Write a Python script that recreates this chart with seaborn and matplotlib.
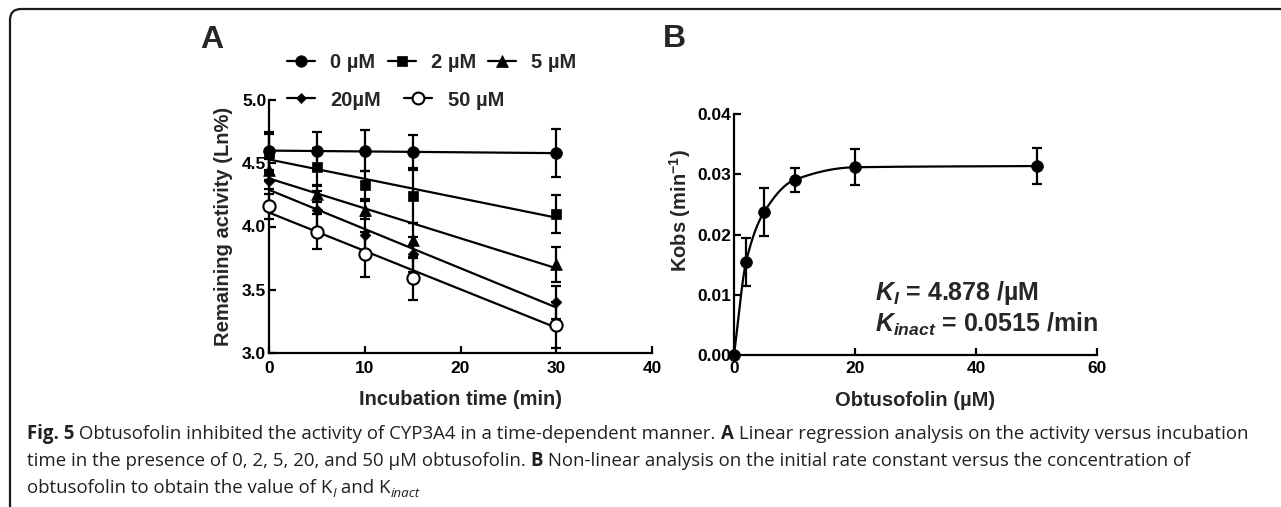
import numpy as np
import pandas as pd
import matplotlib
matplotlib.use("Agg")
import matplotlib.pyplot as plt
import seaborn as sns
from matplotlib.lines import Line2D
from matplotlib.path import Path
from matplotlib.patches import PathPatch

# ---------------- data ----------------
# Panel A: remaining activity (Ln%) vs incubation time
times = [0, 5, 10, 15, 30]
conc_labels = ["0 µM", "2 µM", "5 µM", "20µM", "50 µM"]
act_0 = [4.60, 4.60, 4.60, 4.59, 4.58]
err_0 = [0.15, 0.15, 0.16, 0.13, 0.19]
act_2 = [4.58, 4.47, 4.33, 4.24, 4.10]
err_2 = [0.15, 0.15, 0.11, 0.21, 0.15]
act_5 = [4.45, 4.26, 4.13, 3.89, 3.70]
err_5 = [0.08, 0.07, 0.07, 0.14, 0.14]
act_20 = [4.36, 4.13, 3.93, 3.78, 3.40]
err_20 = [0.06, 0.15, 0.15, 0.14, 0.13]
act_50 = [4.16, 3.96, 3.78, 3.59, 3.22]
err_50 = [0.10, 0.14, 0.18, 0.17, 0.18]
# linear-regression lines (value at t=0 and at t=30)
fit_times = [0, 30]
fit_start = [4.60, 4.53, 4.38, 4.29, 4.11]
fit_end = [4.58, 4.07, 3.67, 3.36, 3.20]

# Panel B: kobs vs obtusofolin concentration
conc_b = [0, 2, 5, 10, 20, 50]
kobs = [0.0, 0.0155, 0.0238, 0.0291, 0.0312, 0.0314]
kobs_err = [0.0, 0.0040, 0.0040, 0.0020, 0.0030, 0.0030]

xticks_a = [0, 10, 20, 30, 40]
yticks_a = [3.0, 3.5, 4.0, 4.5, 5.0]
ytick_labels_a = ["3.0", "3.5", "4.0", "4.5", "5.0"]
xticks_b = [0, 20, 40, 60]
yticks_b = [0.0, 0.01, 0.02, 0.03, 0.04]
ytick_labels_b = ["0.00", "0.01", "0.02", "0.03", "0.04"]

caption_lines = [
    [("Fig. 5", "bold", "normal", 0), (" Obtusofolin inhibited the activity of CYP3A4 in a time-dependent manner. ", "normal", "normal", 0),
     ("A", "bold", "normal", 0), (" Linear regression analysis on the activity versus incubation", "normal", "normal", 0)],
    [("time in the presence of 0, 2, 5, 20, and 50 µM obtusofolin. ", "normal", "normal", 0), ("B", "bold", "normal", 0),
     (" Non-linear analysis on the initial rate constant versus the concentration of", "normal", "normal", 0)],
    [("obtusofolin to obtain the value of K", "normal", "normal", 0), ("I", "normal", "italic", 1),
     (" and K", "normal", "normal", 0), ("inact", "normal", "italic", 1)],
]

# ---------------- style ----------------
sns.set_theme(style="ticks")
plt.rcParams["font.family"] = ["Liberation Sans", "DejaVu Sans"]
plt.rcParams["font.weight"] = "bold"
plt.rcParams["axes.labelweight"] = "bold"
plt.rcParams["mathtext.fontset"] = "custom"
plt.rcParams["mathtext.rm"] = "Liberation Sans:bold"
plt.rcParams["mathtext.it"] = "Liberation Sans:italic:bold"
plt.rcParams["mathtext.bf"] = "Liberation Sans:bold"

W, H = 1281, 507
fig = plt.figure(figsize=(W / 100, H / 100), dpi=100)
fig.patch.set_facecolor("white")

def px_axes(l, t, r, b):
    return fig.add_axes([l / W, (H - b) / H, (r - l) / W, (b - t) / H])

LW = 1.6

def style_axes(ax):
    sns.despine(ax=ax)
    for s in ("left", "bottom"):
        ax.spines[s].set_linewidth(LW)
        ax.spines[s].set_color("black")
    ax.tick_params(direction="in", length=5, width=LW, colors="black", labelsize=12.5)
    ax.tick_params(axis="y", pad=2)
    ax.tick_params(axis="x", pad=6)
    ax.set_facecolor("white")
    ax.grid(False)

# ---------------- panel A ----------------
axA = px_axes(269, 100, 652, 353)
style_axes(axA)
series = [act_0, act_2, act_5, act_20, act_50]
errors = [err_0, err_2, err_5, err_20, err_50]
markers = ["o", "s", "^", "D", "o"]
msizes = [72, 62, 72, 30, 78]
faces = ["black", "black", "black", "black", "white"]

for i in range(5):
    fit_df = pd.DataFrame({"t": fit_times, "v": [fit_start[i], fit_end[i]]})
    sns.lineplot(data=fit_df, x="t", y="v", ax=axA, color="black", lw=LW, zorder=2)
for i in range(5):
    axA.errorbar(times, series[i], yerr=errors[i], fmt="none", ecolor="black",
                 elinewidth=LW, capsize=3.4, capthick=LW, zorder=3, clip_on=False)
for i in range(5):
    df = pd.DataFrame({"t": times, "v": series[i]})
    sns.scatterplot(data=df, x="t", y="v", ax=axA, marker=markers[i], s=msizes[i],
                    color="black", facecolor=faces[i], edgecolor="black",
                    linewidth=1.5 if i == 4 else 0.5, zorder=4, clip_on=False)

axA.set_xlim(0, 40)
axA.set_ylim(3.0, 5.0)
axA.set_xticks(xticks_a)
axA.set_yticks(yticks_a)
axA.set_yticklabels(ytick_labels_a)
axA.set_xlabel("Incubation time (min)", fontsize=14.5, fontweight="bold")
axA.set_ylabel("Remaining activity (Ln%)", fontsize=14.5, fontweight="bold")
axA.xaxis.set_label_coords(0.5, -0.148)
axA.yaxis.set_label_coords(-0.094, 0.5)

handles = [Line2D([], [], color="black", lw=LW, marker=m, markersize=ms,
                  markerfacecolor=f, markeredgecolor="black", markeredgewidth=1.5 if f == "white" else 0.5)
           for m, ms, f in zip(markers, [8.3, 7.5, 8.3, 5.5, 8.5], faces)]
leg1 = axA.legend(handles[:3], conc_labels[:3], ncol=3, frameon=False,
                  loc="center left", bbox_to_anchor=(287 / W, (H - 63) / H),
                  bbox_transform=fig.transFigure, borderpad=0, borderaxespad=0,
                  handlelength=1.4, handletextpad=0.75, columnspacing=0.6,
                  prop={"size": 14.5, "weight": "bold"})
axA.add_artist(leg1)
axA.legend(handles[3:], conc_labels[3:], ncol=2, frameon=False,
           loc="center left", bbox_to_anchor=(287 / W, (H - 100) / H),
           bbox_transform=fig.transFigure, borderpad=0, borderaxespad=0,
           handlelength=1.4, handletextpad=0.75, columnspacing=1.15,
           prop={"size": 14.5, "weight": "bold"})

# ---------------- panel B ----------------
axB = px_axes(734, 114.3, 1097, 355)
style_axes(axB)

def pchip(x, y, xs):
    x = np.asarray(x, float); y = np.asarray(y, float)
    h = np.diff(x); d = np.diff(y) / h
    n = len(x); m = np.zeros(n)
    for k in range(1, n - 1):
        if d[k - 1] * d[k] > 0:
            w1 = 2 * h[k] + h[k - 1]; w2 = h[k] + 2 * h[k - 1]
            m[k] = (w1 + w2) / (w1 / d[k - 1] + w2 / d[k])
    m[0] = d[0]; m[-1] = d[-1]
    out = np.empty_like(xs)
    for j, xv in enumerate(xs):
        k = min(np.searchsorted(x, xv, side="right") - 1, n - 2)
        t = (xv - x[k]) / h[k]
        h00 = 2 * t**3 - 3 * t**2 + 1; h10 = t**3 - 2 * t**2 + t
        h01 = -2 * t**3 + 3 * t**2; h11 = t**3 - t**2
        out[j] = h00 * y[k] + h10 * h[k] * m[k] + h01 * y[k + 1] + h11 * h[k] * m[k + 1]
    return out

xs = np.linspace(conc_b[0], conc_b[-1], 400)
curve_df = pd.DataFrame({"c": xs, "k": pchip(conc_b, kobs, xs)})
sns.lineplot(data=curve_df, x="c", y="k", ax=axB, color="black", lw=LW, zorder=2)
axB.errorbar(conc_b, kobs, yerr=kobs_err, fmt="none", ecolor="black",
             elinewidth=LW, capsize=3.6, capthick=LW, zorder=3, clip_on=False)
sns.scatterplot(x=conc_b, y=kobs, ax=axB, marker="o", s=72, color="black",
                edgecolor="black", linewidth=0.5, zorder=4, clip_on=False)
axB.set_xlim(0, 60)
axB.set_ylim(0, 0.04)
axB.set_xticks(xticks_b)
axB.set_yticks(yticks_b)
axB.set_yticklabels(ytick_labels_b)
axB.tick_params(axis="x", pad=4)
axB.set_xlabel("Obtusofolin (µM)", fontsize=14.5, fontweight="bold")
axB.set_ylabel(r"Kobs (min$^{-1}$)", fontsize=14.5, fontweight="bold")
axB.xaxis.set_label_coords(0.5, -0.148)
axB.yaxis.set_label_coords(-0.113, 0.60)

fig.text(875 / W, (H - 300) / H, r"$K_I$ = 4.878 /µM", fontsize=18, fontweight="bold", va="baseline")
fig.text(875 / W, (H - 332) / H, r"$K_{inact}$ = 0.0515 /min", fontsize=18, fontweight="bold", va="baseline")

# panel letters
fig.text(200 / W, (H - 48) / H, "A", fontsize=23, fontweight="bold", va="baseline")
fig.text(663 / W, (H - 47) / H, "B", fontsize=23, fontweight="bold", va="baseline")

# ---------------- frame ----------------
fx = lambda v: v / W
fy = lambda v: (H - v) / H
verts = [(fx(10), fy(507)), (fx(10), fy(20)), (fx(10), fy(9)), (fx(21), fy(9)), (fx(1281), fy(9))]
codes = [Path.MOVETO, Path.LINETO, Path.CURVE3, Path.CURVE3, Path.LINETO]
fig.add_artist(PathPatch(Path(verts, codes), transform=fig.transFigure,
                         fill=False, edgecolor="#1a1a1a", lw=1.6))

# ---------------- caption ----------------
renderer = fig.canvas.get_renderer()
cap_family = ["Open Sans", "DejaVu Sans"]
cap_size = 13.4
cap_color = "#231f20"

def run_width(s, **kw):
    t1 = fig.text(0, 0, "|" + s + "|", **kw)
    t2 = fig.text(0, 0, "||", **kw)
    w = t1.get_window_extent(renderer).width - t2.get_window_extent(renderer).width
    t1.remove(); t2.remove()
    return w

baselines = [439, 466, 493]
for line, base in zip(caption_lines, baselines):
    x = 27.0
    for text, weight, style, sub in line:
        size = cap_size * (0.72 if sub else 1.0)
        dy = 4.0 if sub else 0.0
        kw = dict(fontsize=size, fontweight=weight, fontstyle=style, family=cap_family, color=cap_color)
        fig.text(x / W, (H - base - dy) / H, text, va="baseline", ha="left", **kw)
        x += run_width(text, **kw)

fig.savefig("out.png", dpi=100, facecolor="white")
